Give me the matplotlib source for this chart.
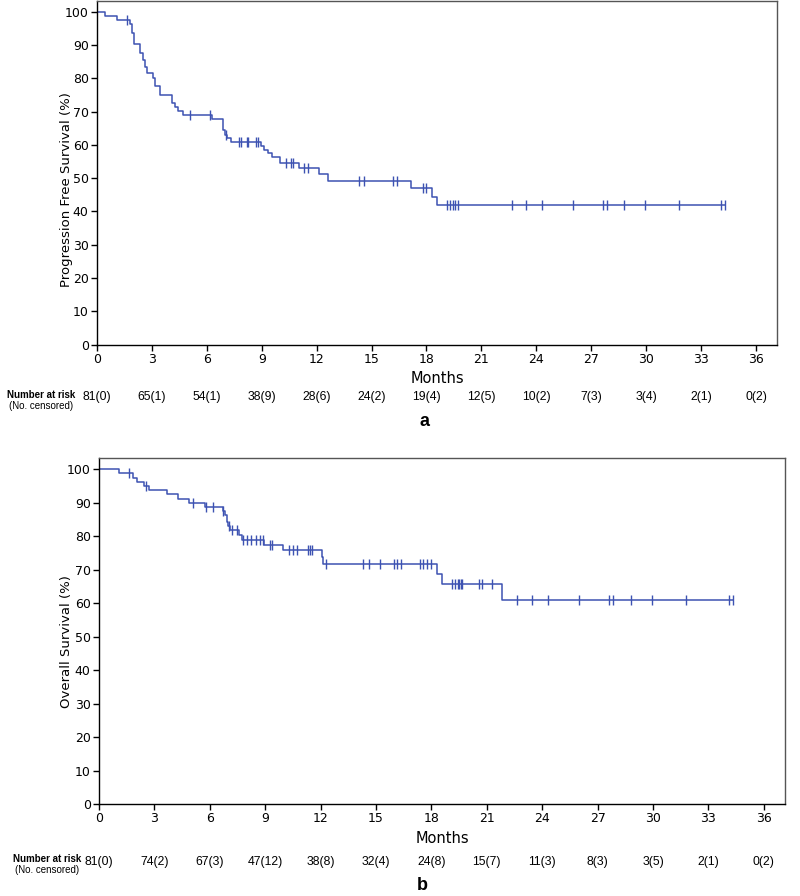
import numpy as np
import matplotlib
matplotlib.use('Agg')
import matplotlib.pyplot as plt
import matplotlib.transforms as mtransforms

# ---- data ----
month_ticks = [0, 3, 6, 9, 12, 15, 18, 21, 24, 27, 30, 33, 36]

# (a) progression free survival: event times (months) and survival after each step (%)
pfs_times = [0.44, 1.11, 1.80, 1.89, 2.02, 2.35, 2.49, 2.62, 2.75, 3.04, 3.17, 3.44,
             4.12, 4.27, 4.45, 4.72, 6.27, 6.87, 7.00, 7.10, 7.30, 8.96, 9.10, 9.33,
             9.54, 10.00, 11.06, 12.11, 12.64, 17.16, 18.30, 18.60]
pfs_surv = [98.8, 97.5, 96.3, 93.8, 90.4, 87.8, 85.6, 83.5, 81.6, 80.1, 77.7, 75.1,
            72.7, 71.5, 70.2, 69.0, 67.8, 64.5, 63.0, 62.2, 61.0, 59.7, 58.5, 57.5,
            56.3, 54.7, 53.0, 51.2, 49.3, 47.0, 44.5, 42.0]
pfs_censored = [1.62, 5.08, 6.17, 7.05, 7.78, 7.87, 8.18, 8.27, 8.69, 8.81, 10.31, 10.58,
                10.73, 11.31, 11.51, 14.32, 14.61, 16.15, 16.38, 17.81, 17.99, 19.12,
                19.30, 19.45, 19.58, 19.70, 22.66, 23.44, 24.33, 26.03, 27.63, 27.85,
                28.81, 29.95, 31.80, 34.10, 34.30]
pfs_at_risk = ['81(0)', '65(1)', '54(1)', '38(9)', '28(6)', '24(2)', '19(4)', '12(5)',
               '10(2)', '7(3)', '3(4)', '2(1)', '0(2)']

# (b) overall survival
os_times = [1.10, 1.82, 2.04, 2.44, 2.72, 3.66, 4.29, 4.89, 5.74, 6.70, 6.83, 6.91,
            7.00, 7.10, 7.60, 7.73, 8.93, 9.98, 12.05, 12.14, 18.28, 18.55, 21.84]
os_surv = [98.7, 97.4, 96.1, 94.9, 93.7, 92.5, 91.1, 89.9, 88.7, 87.5, 86.3, 84.3,
           83.0, 81.8, 80.3, 78.8, 77.3, 75.8, 73.7, 71.6, 68.6, 65.6, 61.0]
os_censored = [1.64, 2.54, 5.07, 5.80, 6.16, 6.72, 7.02, 7.18, 7.45, 7.78, 8.00, 8.23,
               8.48, 8.72, 8.89, 9.26, 9.35, 10.29, 10.52, 10.70, 11.30, 11.42, 11.51,
               12.32, 14.27, 14.63, 15.22, 15.99, 16.12, 16.34, 17.41, 17.52, 17.77,
               17.96, 19.12, 19.28, 19.42, 19.50, 19.58, 19.67, 20.59, 20.76, 21.26,
               22.65, 23.43, 24.31, 26.01, 27.63, 27.85, 28.79, 29.94, 31.78, 34.13, 34.31]
os_at_risk = ['81(0)', '74(2)', '67(3)', '47(12)', '38(8)', '32(4)', '24(8)', '15(7)',
              '11(3)', '8(3)', '3(5)', '2(1)', '0(2)']

LINE = '#3d52b2'
W, H = 800, 896

fig = plt.figure(figsize=(W / 100, H / 100), dpi=100)


def km_panel(rect, times, surv, censored, ylabel, ylab_pos, at_risk, letter,
             risk_y, title_xy, letter_xy):
    ax = fig.add_axes(rect)
    end = max(censored)
    xs = [0] + times + [end]
    ys = [100] + surv + [surv[-1]]
    ax.step(xs, ys, where='post', color=LINE, lw=1.1)
    levels = np.array([100] + surv)
    idx = np.searchsorted(times, censored, side='right')
    ax.plot(censored, levels[idx], ls='none', marker='|', ms=6.5, mew=1.0, color=LINE)

    ax.set_xlim(0, 37.15)
    ax.set_ylim(0, 103.3)
    ax.set_xticks(month_ticks)
    ax.set_yticks(range(0, 101, 10))
    ax.tick_params(direction='out', length=4, width=1, labelsize=9, pad=2, colors='black')
    for s in ['top', 'right']:
        ax.spines[s].set_color('#555555')
    for s in ax.spines.values():
        s.set_linewidth(1.0)
    ax.set_ylabel(ylabel, fontsize=9.5)
    ax.yaxis.set_label_coords(*ylab_pos)
    ax.set_xlabel('Months', fontsize=10.5, labelpad=4)

    tr = mtransforms.blended_transform_factory(ax.transData, fig.transFigure)
    for m, txt in zip(month_ticks, at_risk):
        ax.text(m, 1 - risk_y / H, txt, transform=tr, ha='center', va='center',
                fontsize=8.8, family='Liberation Sans', clip_on=False)
    fig.text(title_xy[0] / W, 1 - title_xy[1] / H, 'Number at risk', ha='center', va='center',
             fontsize=7, fontweight='bold', family='Liberation Sans')
    fig.text(title_xy[0] / W, 1 - (title_xy[1] + 11) / H, '(No. censored)', ha='center',
             va='center', fontsize=7, family='Liberation Sans')
    fig.text(letter_xy[0] / W, 1 - letter_xy[1] / H, letter, ha='center', va='center',
             fontsize=13, fontweight='bold', family='Liberation Sans')
    return ax


km_panel([97 / W, 1 - 344.5 / H, 680 / W, 343.5 / H], pfs_times, pfs_surv, pfs_censored,
         'Progression Free Survival (%)', (-0.036, 0.45), pfs_at_risk, 'a', 397,
         (41, 395), (425, 422))
km_panel([99 / W, 1 - 804 / H, 686 / W, 346 / H], os_times, os_surv, os_censored,
         'Overall Survival (%)', (-0.038, 0.47), os_at_risk, 'b', 862,
         (47, 859), (422, 885))

fig.savefig('out.png', dpi=100)
